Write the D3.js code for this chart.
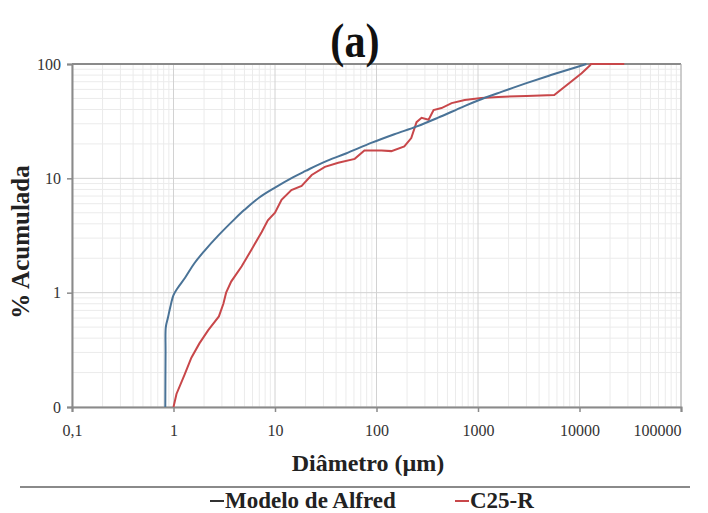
<!DOCTYPE html>
<html><head><meta charset="utf-8">
<script src="https://cdn.jsdelivr.net/npm/d3@7"></script>
<style>body{margin:0;background:#fff;}svg{display:block;}</style>
</head><body>
<svg id="c" width="708" height="513"></svg>
<script>
// Data
const xTickValues = [0.1, 1, 10, 100, 1000, 10000, 100000];
const xTickLabels = ["0,1", "1", "10", "100", "1000", "10000", "100000"];
const yTickValues = [0.1, 1, 10, 100];
const yTickLabels = ["0", "1", "10", "100"];

const alfredD = [0.83, 0.835, 0.84, 0.88, 0.93, 1.0, 1.1, 1.3, 1.6, 2.0, 2.8, 4, 5, 7, 10, 15, 20, 30, 50, 90, 150, 250, 400, 700, 1000, 1700, 3000, 5000, 8000, 11700];
const alfredV = [0.1, 0.3, 0.5, 0.6, 0.75, 0.95, 1.1, 1.35, 1.8, 2.3, 3.2, 4.4, 5.3, 6.8, 8.3, 10.2, 11.6, 13.8, 16.5, 20.5, 24.3, 28.5, 33.8, 42, 48, 57, 68, 79, 90, 100];

const c25D = [1.0, 1.07, 1.28, 1.5, 1.8, 2.2, 2.8, 3.1, 3.3, 3.7, 4.7, 5.9, 7.4, 8.5, 10, 11.6, 14.5, 18.3, 23, 31, 42, 61, 76, 112, 140, 188, 220, 248, 278, 326, 365, 437, 550, 740, 1080, 1580, 3000, 5640, 10500, 12500, 13000, 27600];
const c25V = [0.1, 0.13, 0.19, 0.27, 0.36, 0.47, 0.62, 0.8, 1.0, 1.25, 1.7, 2.4, 3.4, 4.3, 5.0, 6.5, 7.9, 8.6, 10.7, 12.6, 13.7, 14.8, 17.5, 17.5, 17.3, 19, 22.5, 31, 33.8, 32.5, 39.6, 41.2, 45.5, 48.5, 50.5, 51.5, 52.5, 53.5, 83, 96, 100, 100];

const seriesNames = ["Modelo de Alfred", "C25-R"];
const seriesColors = ["#4a7397", "#c8474a"];

const FONT = "Liberation Serif, Times New Roman, serif";
const svg = d3.select("#c");
const L = 72, R = 681, T = 64, B = 407;
const x = d3.scaleLog().domain([0.1, 100000]).range([L, R]);
const y = d3.scaleLog().domain([0.1, 100]).range([B, T]);

// minor grid
const minorX = [], minorY = [];
for (let e = -1; e < 5; e++) for (let k = 2; k <= 9; k++) minorX.push(k * Math.pow(10, e));
for (let e = -1; e < 2; e++) for (let k = 2; k <= 9; k++) minorY.push(k * Math.pow(10, e));
const g = svg.append("g");
g.selectAll(".mx").data(minorX).join("line")
  .attr("x1", d => x(d)).attr("x2", d => x(d)).attr("y1", T).attr("y2", B)
  .attr("stroke", "#ebebeb").attr("stroke-width", 1);
g.selectAll(".my").data(minorY).join("line")
  .attr("x1", L).attr("x2", R).attr("y1", d => y(d)).attr("y2", d => y(d))
  .attr("stroke", "#ebebeb").attr("stroke-width", 1);
g.selectAll(".Mx").data(xTickValues).join("line")
  .attr("x1", d => x(d)).attr("x2", d => x(d)).attr("y1", T).attr("y2", B)
  .attr("stroke", "#d2d2d2").attr("stroke-width", 1);
g.selectAll(".My").data(yTickValues).join("line")
  .attr("x1", L).attr("x2", R).attr("y1", d => y(d)).attr("y2", d => y(d))
  .attr("stroke", "#d2d2d2").attr("stroke-width", 1);

// border top and right
svg.append("line").attr("x1", L).attr("x2", R).attr("y1", T).attr("y2", T).attr("stroke", "#8a8a8a").attr("stroke-width", 2);
svg.append("line").attr("x1", R).attr("x2", R).attr("y1", T).attr("y2", B).attr("stroke", "#b0b0b0").attr("stroke-width", 1);

// axes
const xAxis = d3.axisBottom(x).tickValues(xTickValues).tickFormat((d, i) => xTickLabels[i]).tickSize(5).tickPadding(13);
const yAxis = d3.axisLeft(y).tickValues(yTickValues).tickFormat((d, i) => yTickLabels[i]).tickSize(5).tickPadding(6);
const gx = svg.append("g").attr("transform", `translate(0,${B})`).call(xAxis);
const gy = svg.append("g").attr("transform", `translate(${L},0)`).call(yAxis);
[gx, gy].forEach(a => {
  a.select(".domain").attr("stroke", "#8a8a8a").attr("stroke-width", 2);
  a.selectAll(".tick line").attr("stroke", "#8a8a8a").attr("stroke-width", 1.5);
  a.selectAll("text").attr("font-family", FONT).attr("font-size", 16).attr("fill", "#333");
});
// last x label sits inside the plot's right edge
gx.selectAll(".tick text").filter((d, i) => i === xTickValues.length - 1).attr("text-anchor", "end");

// lines
const alfred = alfredD.map((d, i) => [d, alfredV[i]]);
const c25 = c25D.map((d, i) => [d, c25V[i]]);
svg.append("path").datum(c25).attr("d", d3.line().x(d => x(d[0])).y(d => y(d[1])))
  .attr("fill", "none").attr("stroke", seriesColors[1]).attr("stroke-width", 2);
svg.append("path").datum(alfred).attr("d", d3.line().x(d => x(d[0])).y(d => y(d[1])).curve(d3.curveCatmullRom))
  .attr("fill", "none").attr("stroke", seriesColors[0]).attr("stroke-width", 2);

// titles
svg.append("text").attr("transform", "translate(355,57) scale(0.88,1)").attr("text-anchor", "middle")
  .attr("font-family", FONT).attr("font-weight", "bold").attr("font-size", 48).attr("fill", "#111").text("(a)");
svg.append("text").attr("x", 368).attr("y", 471).attr("text-anchor", "middle")
  .attr("font-family", FONT).attr("font-weight", "bold").attr("font-size", 24).attr("fill", "#222").text("Diâmetro (µm)");
svg.append("text").attr("transform", "translate(29,242) rotate(-90)").attr("text-anchor", "middle")
  .attr("font-family", FONT).attr("font-weight", "bold").attr("font-size", 25).attr("fill", "#222").text("% Acumulada");

// separator
svg.append("line").attr("x1", 20).attr("x2", 690).attr("y1", 487).attr("y2", 487).attr("stroke", "#8a8a8a").attr("stroke-width", 2);

// legend
const legX = [210, 455];
seriesNames.forEach((n, i) => {
  svg.append("line").attr("x1", legX[i]).attr("x2", legX[i] + 14).attr("y1", 501).attr("y2", 501)
    .attr("stroke", i === 0 ? "#333" : seriesColors[1]).attr("stroke-width", 2);
  svg.append("text").attr("x", legX[i] + 15).attr("y", 508)
    .attr("font-family", FONT).attr("font-weight", "bold").attr("font-size", 23).attr("fill", "#222").text(n);
});
</script>
</body></html>
